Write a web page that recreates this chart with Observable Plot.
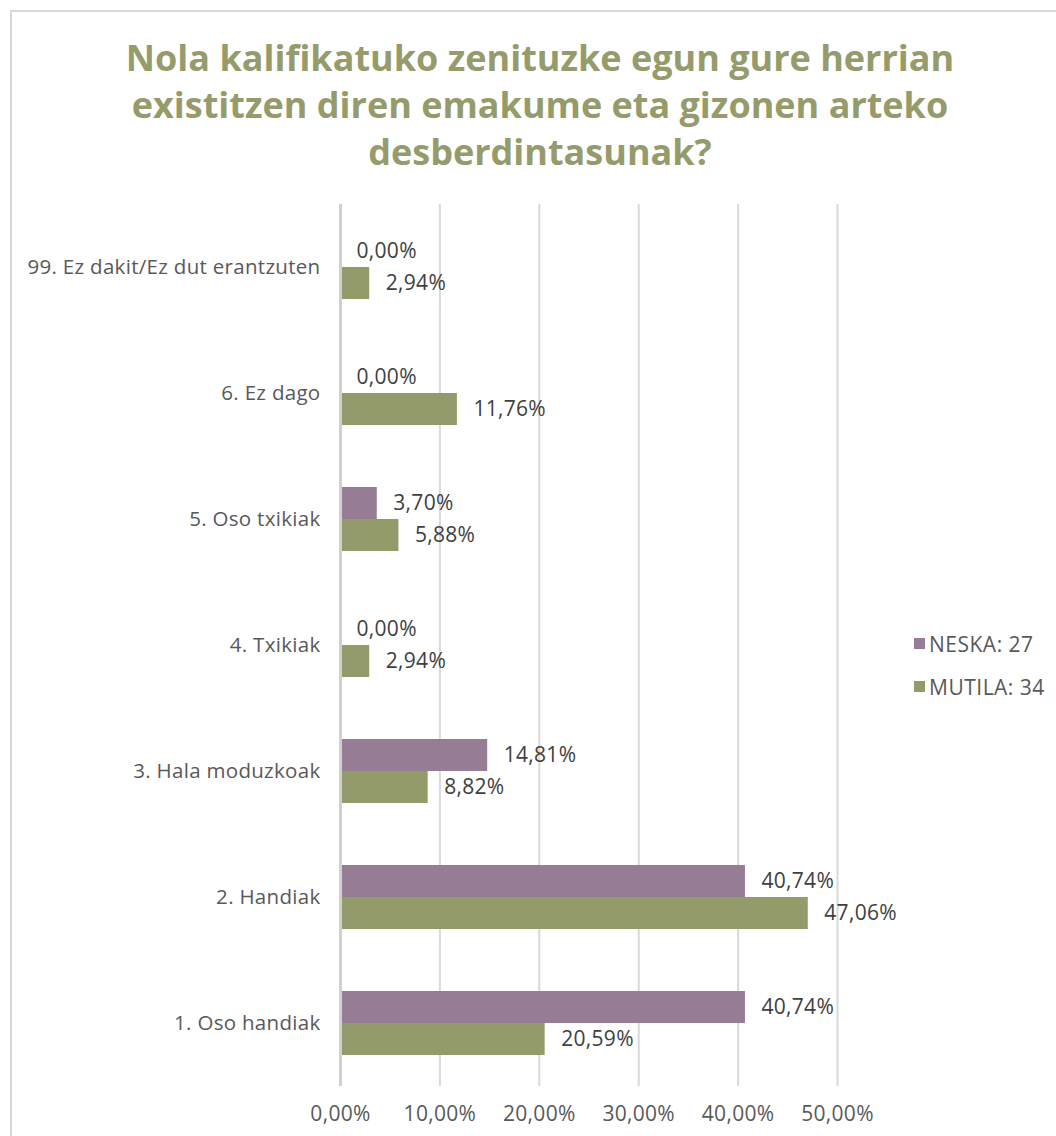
<!DOCTYPE html>
<html>
<head>
<meta charset="utf-8">
<script src="https://cdn.jsdelivr.net/npm/d3@7"></script>
<script src="https://cdn.jsdelivr.net/npm/@observablehq/plot@0.6"></script>
<style>
  html, body { margin: 0; padding: 0; background: #fff; }
  body { width: 1056px; height: 1136px; position: relative; overflow: hidden; font-family: "Open Sans", sans-serif; }
  #frame { position: absolute; left: 10px; top: 10px; width: 1100px; height: 1200px; border: 2px solid #d9d9d9; box-sizing: border-box; }
  #title { position: absolute; left: 0; top: 0; width: 1080px; height: 190px; box-sizing: border-box; padding-top: 34px; text-align: center;
           font-family: "Open Sans", sans-serif; font-weight: 700; font-size: 36px; line-height: 47px; color: #959b6b; }
  #chart { position: absolute; left: 0; top: 190px; }
  #legend { position: absolute; left: 914px; top: 622px; font-size: 21px; letter-spacing: 0.5px; color: #595959; }
  #legend .row { height: 43px; display: flex; align-items: center; }
  #legend .sw { width: 11px; height: 11px; margin-right: 4px; }
  #chart svg text { letter-spacing: 0.3px; }
</style>
</head>
<body>
<div id="frame"></div>
<div id="title">Nola kalifikatuko zenituzke egun gure herrian<br>existitzen diren emakume eta gizonen arteko<br>desberdintasunak?</div>
<div id="chart"></div>
<div id="legend"></div>
<script>
const categories = ["99. Ez dakit/Ez dut erantzuten", "6. Ez dago", "5. Oso txikiak", "4. Txikiak", "3. Hala moduzkoak", "2. Handiak", "1. Oso handiak"];
const series = ["NESKA: 27", "MUTILA: 34"];
const neska = [0.00, 0.00, 3.70, 0.00, 14.81, 40.74, 40.74];
const mutila = [2.94, 11.76, 5.88, 2.94, 8.82, 47.06, 20.59];
const xTicks = [0, 10, 20, 30, 40, 50];
const colors = ["#967d95", "#949b6a"];

const data = [];
categories.forEach((c, i) => {
  data.push({cat: c, series: series[0], value: neska[i]});
  data.push({cat: c, series: series[1], value: mutila[i]});
});

const fmt = v => v.toFixed(2).replace(".", ",") + "%";

const chart = Plot.plot({
  width: 1056,
  height: 946,
  marginLeft: 340,
  marginRight: 219,
  marginTop: 14,
  marginBottom: 50,
  style: {fontFamily: "'Open Sans', sans-serif", background: "transparent"},
  x: {domain: [0, 50], ticks: xTicks, tickFormat: fmt, label: null},
  y: {domain: series, paddingInner: 0, paddingOuter: 0.91, axis: null},
  fy: {domain: categories, padding: 0, label: null},
  color: {domain: series, range: colors},
  marks: [
    Plot.gridX(xTicks.slice(1), {stroke: "#d9d9d9", strokeOpacity: 1, strokeWidth: 2}),
    Plot.barX(data, {x: "value", y: "series", fy: "cat", fill: "series"}),
    Plot.ruleX([0], {stroke: "#d0d0d0", strokeWidth: 3}),
    Plot.text(data, {x: "value", y: "series", fy: "cat", text: d => fmt(d.value), dx: 16, textAnchor: "start", fontSize: 21, fill: "#404040"}),
    Plot.axisX(xTicks, {anchor: "bottom", tickSize: 0, tickPadding: 20, tickFormat: fmt, fontSize: 21, color: "#595959", label: null}),
    Plot.axisFy({anchor: "left", tickSize: 0, tickPadding: 20, fontSize: 20.5, color: "#595959", label: null})
  ]
});
document.getElementById("chart").appendChild(chart);

const legend = document.getElementById("legend");
series.forEach((s, i) => {
  const row = document.createElement("div");
  row.className = "row";
  const sw = document.createElement("div");
  sw.className = "sw";
  sw.style.background = colors[i];
  const t = document.createElement("span");
  t.textContent = s;
  row.appendChild(sw);
  row.appendChild(t);
  legend.appendChild(row);
});
</script>
</body>
</html>
